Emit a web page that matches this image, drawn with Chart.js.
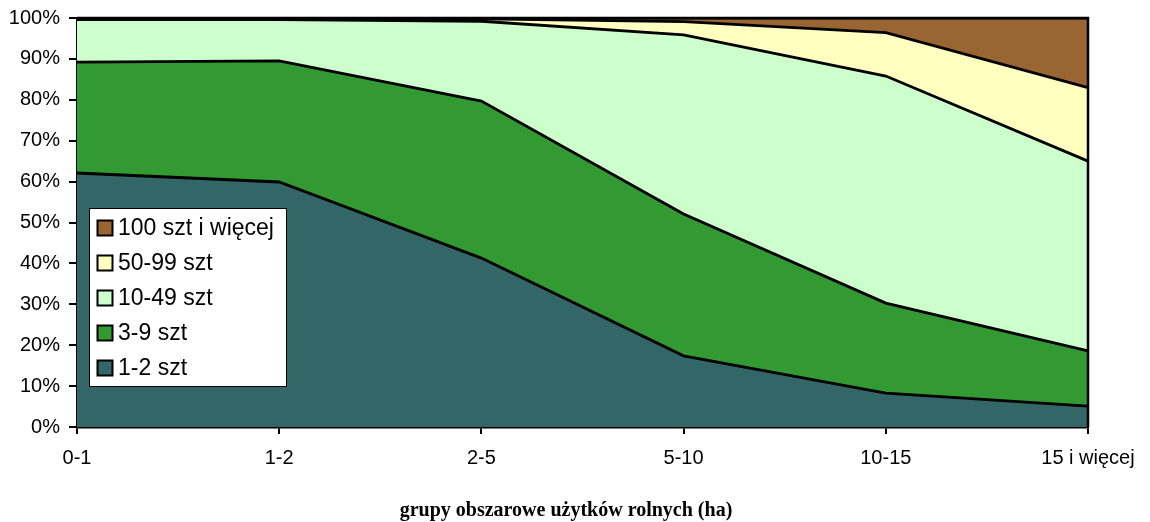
<!DOCTYPE html>
<html>
<head>
<meta charset="utf-8">
<script src="https://cdn.jsdelivr.net/npm/chart.js@4.4.1/dist/chart.umd.min.js"></script>
<style>
  html, body { margin: 0; padding: 0; background: #fff; }
  canvas { display: block; }
</style>
</head>
<body>
<canvas id="c" width="1150" height="522"></canvas>
<script>
const categories = ['0-1', '1-2', '2-5', '5-10', '10-15', '15 i więcej'];
const seriesNames = ['1-2 szt', '3-9 szt', '10-49 szt', '50-99 szt', '100 szt i więcej'];
const s1_2 = [62.1, 59.9, 41.3, 17.4, 8.3, 5.1];
const s3_9 = [27.1, 29.6, 38.4, 34.7, 22.0, 13.5];
const s10_49 = [10.4, 10.1, 19.5, 43.8, 55.5, 46.4];
const s50_99 = [0.3, 0.3, 0.6, 3.2, 10.6, 18.0];
const s100 = [0.1, 0.1, 0.2, 0.9, 3.6, 17.0];
const yTicks = [0, 10, 20, 30, 40, 50, 60, 70, 80, 90, 100];
const xTitle = 'grupy obszarowe użytków rolnych (ha)';

const colors = ['#336666', '#339933', '#CCFFCC', '#FFFFC0', '#996633'];
const values = [s1_2, s3_9, s10_49, s50_99, s100];

const datasets = values.map((v, i) => ({
  label: seriesNames[i],
  data: v,
  backgroundColor: colors[i],
  borderColor: '#000',
  borderWidth: 2.8,
  pointRadius: 0,
  tension: 0,
  fill: i === 0 ? 'origin' : '-1'
}));

const framePlugin = {
  id: 'frame',
  afterDatasetsDraw(chart) {
    const a = chart.chartArea, ctx = chart.ctx;
    ctx.save();
    ctx.strokeStyle = '#000';
    ctx.lineWidth = 2.5;
    ctx.beginPath();
    ctx.moveTo(a.left, a.top);
    ctx.lineTo(a.right, a.top);
    ctx.lineTo(a.right, a.bottom);
    ctx.stroke();
    ctx.restore();
  }
};

const legendPlugin = {
  id: 'boxLegend',
  afterDraw(chart) {
    const ctx = chart.ctx;
    const bx = 89, by = 208, bw = 197, bh = 178;
    ctx.save();
    ctx.fillStyle = '#fff';
    ctx.fillRect(bx, by, bw, bh);
    ctx.strokeStyle = '#000';
    ctx.lineWidth = 1;
    ctx.strokeRect(bx + 0.5, by + 0.5, bw, bh);
    ctx.font = '23px "Liberation Sans", Arial, sans-serif';
    ctx.textBaseline = 'middle';
    ctx.textAlign = 'left';
    const ds = chart.data.datasets;
    for (let k = 0; k < ds.length; k++) {
      const d = ds[ds.length - 1 - k];
      const cy = 228 + k * 35;
      ctx.fillStyle = d.backgroundColor;
      ctx.fillRect(97.5, cy - 7.5, 15, 15);
      ctx.lineWidth = 2;
      ctx.strokeStyle = '#000';
      ctx.strokeRect(97.5, cy - 7.5, 15, 15);
      ctx.fillStyle = '#000';
      ctx.fillText(d.label, 118, cy + 1);
    }
    ctx.restore();
  }
};

const titlePlugin = {
  id: 'xTitle',
  afterDraw(chart) {
    const ctx = chart.ctx;
    ctx.save();
    ctx.font = 'bold 20px "Liberation Serif", "Times New Roman", serif';
    ctx.fillStyle = '#000';
    ctx.textAlign = 'center';
    ctx.textBaseline = 'middle';
    ctx.fillText(xTitle, 566, 511);
    ctx.restore();
  }
};

new Chart(document.getElementById('c'), {
  type: 'line',
  data: { labels: categories, datasets },
  options: {
    responsive: false,
    animation: false,
    devicePixelRatio: 1,
    layout: { padding: { left: 0, right: 62, top: 18, bottom: 0 } },
    plugins: { legend: { display: false }, tooltip: { enabled: false } },
    scales: {
      x: {
        offset: false,
        grid: { display: true, drawOnChartArea: false, drawTicks: true, tickLength: 7, color: '#000', lineWidth: 2 },
        border: { display: true, color: '#000', width: 2.5 },
        ticks: { color: '#000', font: { family: '"Liberation Sans", Arial, sans-serif', size: 20 }, padding: 12, maxRotation: 0, autoSkip: false },
        afterFit(s) { s.height = 95; }
      },
      y: {
        stacked: true,
        min: 0,
        max: 100,
        afterBuildTicks(s) { s.ticks = yTicks.map(v => ({ value: v })); },
        grid: { display: true, drawOnChartArea: false, drawTicks: true, tickLength: 8, color: '#000', lineWidth: 2 },
        border: { display: true, color: '#000', width: 2.5 },
        ticks: { color: '#000', font: { family: '"Liberation Sans", Arial, sans-serif', size: 20, lineHeight: 0.8 }, padding: 9, callback: v => v + '%' },
        afterFit(s) { s.width = 77; }
      }
    }
  },
  plugins: [framePlugin, legendPlugin, titlePlugin]
});
</script>
</body>
</html>
